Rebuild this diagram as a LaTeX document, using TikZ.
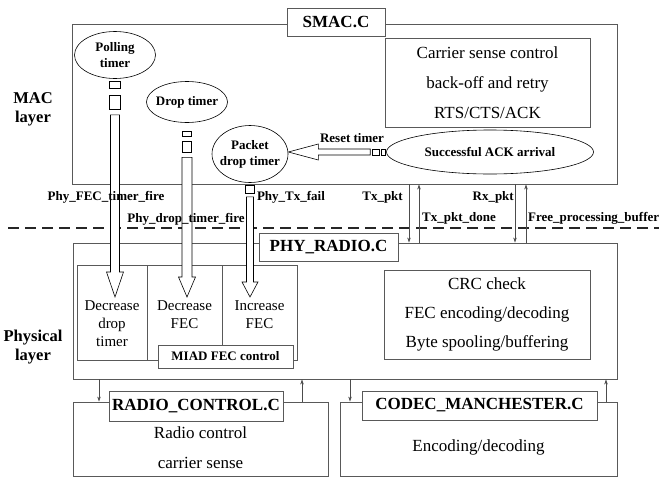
\documentclass[tikz,border=0pt]{standalone}
\usepackage{fontspec}
\setmainfont{Liberation Serif}
\usetikzlibrary{arrows.meta,positioning,calc,shapes.geometric}

% hollow arrow pointing down: shaft top, tip, shaft half width, head half width, head length
\newcommand{\downblock}[5]{%
  \filldraw[block] ($(#1)+(-#3,0)$) -- ($(#2)+(-#3,-#5)$) -- ($(#2)+(-#4,-#5)$)
    -- (#2) -- ($(#2)+(#4,-#5)$) -- ($(#2)+(#3,-#5)$) -- ($(#1)+(#3,0)$) -- cycle;}
% hollow arrow pointing left: shaft right end, tip, shaft half height, head half height, head length
\newcommand{\leftblock}[5]{%
  \filldraw[block] ($(#1)+(0,-#3)$) -- ($(#2)+(#5,-#3)$) -- ($(#2)+(#5,-#4)$)
    -- (#2) -- ($(#2)+(#5,#4)$) -- ($(#2)+(#5,#3)$) -- ($(#1)+(0,#3)$) -- cycle;}

\begin{document}
\begin{tikzpicture}[x=1pt, y=-1pt,
  panel/.style={rectangle, draw=black!65, line width=0.9pt, fill=white, inner sep=0pt},
  module/.style={panel, font=\fontsize{17}{20}\selectfont\bfseries},
  body/.style={align=center, font=\fontsize{17}{30}\selectfont},
  coltext/.style={align=center, font=\fontsize{15}{18}\selectfont},
  timer/.style={ellipse, draw=black, line width=0.6pt, fill=white, align=center,
                inner xsep=-5pt, inner ysep=0pt, font=\fontsize{13}{16}\selectfont\bfseries},
  sig/.style={font=\fontsize{13}{15}\selectfont\bfseries, inner sep=0pt},
  layerlbl/.style={align=center, font=\fontsize{16.5}{19}\selectfont\bfseries},
  block/.style={draw=black, fill=white, line width=0.6pt},
  link/.style={-{Stealth[length=5pt,width=3.5pt]}, draw=black!70, line width=0.6pt},
  layersep/.style={draw=black!85, line width=1.8pt, dash pattern=on 11pt off 6pt}
]
\useasboundingbox (0,0) rectangle (659,477);

% MAC layer
\node[panel, minimum width=545, minimum height=160] (mac) at (344.5,104) {};
\node[module, minimum width=98, minimum height=28] (smac) at (336,22) {SMAC.C};
\node[layerlbl] (maclayer) at (33,109) {MAC\\layer};
\node[panel, body, minimum width=205, minimum height=89] (csma) at (487.5,82.5)
  {Carrier sense control\\back-off and retry\\RTS/CTS/ACK};

\node[timer, minimum width=81, minimum height=47] (poll) at (115,55) {Polling\\timer};
\node[timer, minimum width=81, minimum height=41] (droptmr) at (187,102) {Drop timer};
\node[timer, minimum width=76, minimum height=57] (pkttmr) at (250,154) {Packet\\drop timer};
\node[timer, minimum width=207, minimum height=44] (ackarr) at (490,152) {Successful ACK arrival};

% Physical layer
\node[panel, minimum width=544, minimum height=136] (phy) at (345,311) {};
\node[module, minimum width=139, minimum height=28] (phyradio) at (328.5,247) {PHY\_RADIO.C};
\node[layerlbl] (phylayer) at (33,347.5) {Physical\\layer};

\node[panel, minimum width=70, minimum height=95] (colA) at (112,312.5) {};
\node[panel, minimum width=75, minimum height=95] (colB) at (184.5,312.5) {};
\node[panel, minimum width=75, minimum height=95] (colC) at (259.5,312.5) {};
\node[coltext] (txtA) at (112,324) {Decrease\\drop\\timer};
\node[coltext] (txtB) at (184.5,315) {Decrease\\FEC};
\node[coltext] (txtC) at (259.5,315) {Increase\\FEC};
\node[panel, font=\fontsize{13}{15}\selectfont\bfseries, minimum width=135, minimum height=23]
  (miad) at (225.5,356.5) {MIAD FEC control};

\node[panel, align=center, font=\fontsize{17}{29}\selectfont, minimum width=206, minimum height=89]
  (crc) at (487,314.5) {CRC check\\FEC encoding/decoding\\Byte spooling/buffering};

% Radio and codec modules
\node[panel, minimum width=255, minimum height=74] (radio) at (200.5,439) {};
\node[body] (radiotext) at (200.5,448) {Radio control\\carrier sense};
\node[module, minimum width=174, minimum height=30] (radioctl) at (196,406) {RADIO\_CONTROL.C};
\node[panel, minimum width=277, minimum height=74] (codec) at (478.5,439) {};
\node[body] (codectext) at (478.5,447) {Encoding/decoding};
\node[module, minimum width=235, minimum height=29] (codecmc) at (479.5,405.5) {CODEC\_MANCHESTER.C};

% layer boundary
\draw[layersep] (8,228) -- (659,228);

% timer events down to the FEC control
\coordinate (tiprow) at (0,297);
\coordinate (polltip) at (poll.south |- tiprow);
\coordinate (droptip) at (droptmr.south |- tiprow);
\coordinate (pkttip) at (pkttmr.south |- tiprow);

\draw[block] ($(poll.south)+(-5.5,2)$) rectangle ++(11,7);
\draw[block] ($(poll.south)+(-5.5,16)$) rectangle ++(11,14);
\downblock{$(poll.south)+(0,36)$}{polltip}{4.5}{8.5}{25}

\draw[block] ($(droptmr.south)+(-4.5,8.5)$) rectangle ++(9,5);
\draw[block] ($(droptmr.south)+(-4.5,18.5)$) rectangle ++(9,11);
\downblock{$(droptmr.south)+(0,34.5)$}{droptip}{5}{8.5}{20}

\draw[block] ($(pkttmr.south)+(-4.5,2)$) rectangle ++(9,8);
\downblock{$(pkttmr.south)+(0,14)$}{pkttip}{3.5}{8}{15}

% ACK arrival resets the packet drop timer
\coordinate (resettip) at (pkttmr.east |- ackarr.west);
\draw[block] ($(ackarr.west)+(-5,-3)$) rectangle ++(4,6);
\draw[block] ($(ackarr.west)+(-14,-3)$) rectangle ++(7,6);
\leftblock{$(ackarr.west)+(-16,0)$}{resettip}{3}{8}{30}

% signal names
\node[sig] (lreset) at (352,138) {Reset timer};
\node[sig] (lfec) at (106,197) {Phy\_FEC\_timer\_fire};
\node[sig] (ldrop) at (186,219) {Phy\_drop\_timer\_fire};
\node[sig] (lfail) at (291,197) {Phy\_Tx\_fail};
\node[sig, anchor=east] (ltx) at (403,197) {Tx\_pkt};
\node[sig, anchor=west] (ltxdone) at (422,218) {Tx\_pkt\_done};
\node[sig, anchor=east] (lrx) at (514,197) {Rx\_pkt};
\node[sig, anchor=west] (lfree) at (528,218) {Free\_processing\_buffer};

% MAC <-> PHY calls
\coordinate (txdn) at (409,0);
\coordinate (txup) at (419,0);
\coordinate (rxdn) at (515,0);
\coordinate (rxup) at (526,0);
\draw[link] (mac.south -| txdn) -- (phy.north -| txdn);
\draw[link] (phy.north -| txup) -- (mac.south -| txup);
\draw[link] (mac.south -| rxdn) -- (phy.north -| rxdn);
\draw[link] (phy.north -| rxup) -- (mac.south -| rxup);

% PHY <-> radio / codec calls
\coordinate (rcdn) at (99,0);
\coordinate (rcup) at (302,0);
\coordinate (cddn) at (350,0);
\coordinate (cdup) at (606,0);
\draw[link] (phy.south -| rcdn) -- (radio.north -| rcdn);
\draw[link] (radio.north -| rcup) -- (phy.south -| rcup);
\draw[link] (phy.south -| cddn) -- (codec.north -| cddn);
\draw[link] (codec.north -| cdup) -- (phy.south -| cdup);

\end{tikzpicture}
\end{document}
